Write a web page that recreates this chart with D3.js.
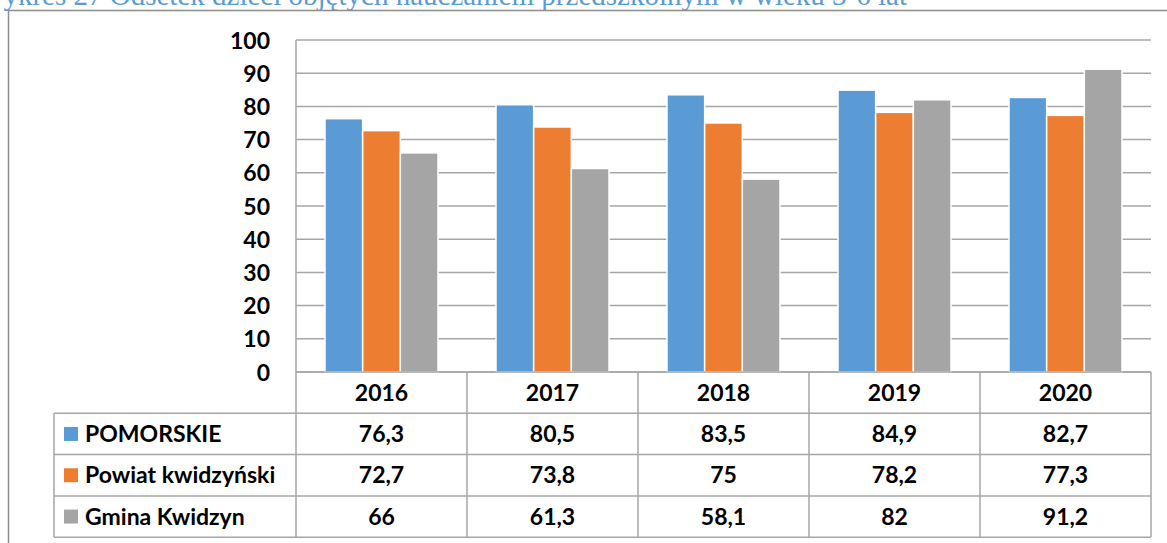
<!DOCTYPE html>
<html>
<head>
<meta charset="utf-8">
<script src="https://cdn.jsdelivr.net/npm/d3@7"></script>
<style>
  html, body { margin: 0; padding: 0; background: #fff; overflow: hidden; }
  svg { display: block; }
</style>
</head>
<body>
<svg id="chart" width="1167" height="543"></svg>
<script>
const title = "Wykres 27 Odsetek dzieci objętych nauczaniem przedszkolnym w wieku 3-6 lat";
const years = ["2016", "2017", "2018", "2019", "2020"];
const seriesNames = ["POMORSKIE", "Powiat kwidzyński", "Gmina Kwidzyn"];
const pomorskie = [76.3, 80.5, 83.5, 84.9, 82.7];
const powiat = [72.7, 73.8, 75, 78.2, 77.3];
const gmina = [66, 61.3, 58.1, 82, 91.2];
const valueLabels = [
  ["76,3", "80,5", "83,5", "84,9", "82,7"],
  ["72,7", "73,8", "75", "78,2", "77,3"],
  ["66", "61,3", "58,1", "82", "91,2"]
];
const yTicks = [0, 10, 20, 30, 40, 50, 60, 70, 80, 90, 100];
const colors = ["#5B9BD5", "#ED7D31", "#A5A5A5"];

const seriesValues = [pomorskie, powiat, gmina];

const svg = d3.select("#chart");
const font = "Lato, 'Open Sans', sans-serif";
const fs = 23;
const lineColor = "#A6A6A6";

const plotLeft = 296, plotRight = 1151, plotTop = 40, plotBottom = 372;
const tableLeft = 54;
const rowH = 41.3;

// Title (clipped at top like the reference)
svg.append("text")
  .attr("x", 907).attr("y", 5)
  .attr("text-anchor", "end")
  .attr("font-family", "'Liberation Serif', 'Times New Roman', serif")
  .attr("font-size", 29)
  .attr("fill", "#5B9BD5")
  .text(title);

// Outer frame (top and left)
svg.append("line").attr("x1", 8.5).attr("x2", 1167).attr("y1", 10.5).attr("y2", 10.5)
  .attr("stroke", "#8C8C8C").attr("stroke-width", 1.5);
svg.append("line").attr("x1", 8.5).attr("x2", 8.5).attr("y1", 10.5).attr("y2", 543)
  .attr("stroke", "#8C8C8C").attr("stroke-width", 1.5);

const x0 = d3.scaleBand().domain(years).range([plotLeft, plotRight]).paddingInner(0).paddingOuter(0);
const x1 = d3.scaleBand().domain(seriesNames).range([0, x0.bandwidth()]).paddingInner(0).paddingOuter(0.77);
const y = d3.scaleLinear().domain([0, 100]).range([plotBottom, plotTop]);

// Gridlines
svg.append("g").selectAll("line").data(yTicks).join("line")
  .attr("x1", plotLeft).attr("x2", plotRight)
  .attr("y1", d => y(d)).attr("y2", d => y(d))
  .attr("stroke", lineColor).attr("stroke-width", 1.5);

// Y axis labels
const yAxis = d3.axisLeft(y).tickValues(yTicks).tickSize(0).tickPadding(0);
const yg = svg.append("g").attr("transform", `translate(270,0)`).call(yAxis);
yg.select(".domain").remove();
yg.selectAll("text")
  .attr("font-family", font).attr("font-weight", "bold").attr("font-size", fs)
  .attr("fill", "#000").attr("dy", "0.35em");

// Bars
const groups = svg.append("g").selectAll("g").data(years).join("g")
  .attr("transform", d => `translate(${x0(d)},0)`);
groups.selectAll("rect")
  .data((d, i) => seriesNames.map((s, j) => ({ s, j, v: seriesValues[j][i] })))
  .join("rect")
  .attr("x", d => x1(d.s))
  .attr("width", x1.bandwidth())
  .attr("y", d => y(d.v))
  .attr("height", d => y(0) - y(d.v))
  .attr("fill", d => colors[d.j])
  .attr("stroke", "#fff").attr("stroke-width", 1.5);

// Table
const tbl = svg.append("g");
const rowTops = [plotBottom, plotBottom + rowH, plotBottom + 2 * rowH, plotBottom + 3 * rowH, plotBottom + 4 * rowH];
tbl.append("line").attr("x1", plotLeft).attr("x2", plotRight).attr("y1", rowTops[0]).attr("y2", rowTops[0])
  .attr("stroke", lineColor).attr("stroke-width", 1.5);
for (let r = 1; r <= 4; r++) {
  tbl.append("line").attr("x1", tableLeft).attr("x2", plotRight).attr("y1", rowTops[r]).attr("y2", rowTops[r])
    .attr("stroke", lineColor).attr("stroke-width", 1.5);
}
tbl.append("line").attr("x1", tableLeft).attr("x2", tableLeft).attr("y1", rowTops[1]).attr("y2", rowTops[4])
  .attr("stroke", lineColor).attr("stroke-width", 1.5);
tbl.append("line").attr("x1", plotLeft).attr("x2", plotLeft).attr("y1", plotTop).attr("y2", rowTops[4])
  .attr("stroke", lineColor).attr("stroke-width", 1.5);
years.forEach((yr) => {
  const xr = x0(yr) + x0.bandwidth();
  tbl.append("line").attr("x1", xr).attr("x2", xr).attr("y1", rowTops[0]).attr("y2", rowTops[4])
    .attr("stroke", lineColor).attr("stroke-width", 1.5);
});

tbl.selectAll("text.hdr").data(years).join("text").attr("class", "hdr")
  .attr("x", d => x0(d) + x0.bandwidth() / 2)
  .attr("y", rowTops[0] + rowH / 2)
  .attr("dy", "0.35em").attr("text-anchor", "middle")
  .attr("font-family", font).attr("font-weight", "bold").attr("font-size", fs)
  .text(d => d);

seriesNames.forEach((s, j) => {
  const cy = rowTops[j + 1] + rowH / 2;
  tbl.append("rect").attr("x", 64).attr("y", cy - 7).attr("width", 14).attr("height", 14).attr("fill", colors[j]);
  tbl.append("text").attr("x", 85).attr("y", cy).attr("dy", "0.35em")
    .attr("font-family", font).attr("font-weight", "bold").attr("font-size", fs).text(s);
  years.forEach((yr, i) => {
    tbl.append("text")
      .attr("x", x0(yr) + x0.bandwidth() / 2).attr("y", cy).attr("dy", "0.35em")
      .attr("text-anchor", "middle")
      .attr("font-family", font).attr("font-weight", "bold").attr("font-size", fs)
      .text(valueLabels[j][i]);
  });
});
</script>
</body>
</html>
